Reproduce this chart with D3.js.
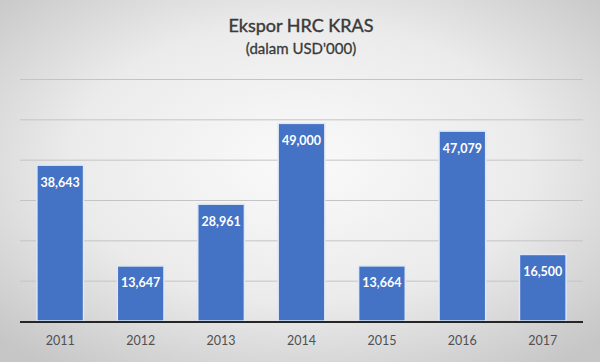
<!DOCTYPE html>
<html>
<head>
<meta charset="utf-8">
<script src="https://cdn.jsdelivr.net/npm/d3@7"></script>
<style>
  body { margin: 0; background: #fff; }
  svg { display: block; }
</style>
</head>
<body>
<div id="container"></div>
<script>
let w = 600;
let h = 362;

// data
let years = ["2011", "2012", "2013", "2014", "2015", "2016", "2017"];
let exports = [38643, 13647, 28961, 49000, 13664, 47079, 16500];
let yTicks = [0, 10000, 20000, 30000, 40000, 50000, 60000];

let plotL = 20, plotR = 583, plotT = 79, plotB = 321;

let x = d3.scaleBand().domain(years).range([plotL, plotR]).paddingInner(0.42).paddingOuter(0.21);
let y = d3.scaleLinear().domain([0, 60000]).range([plotB, plotT]);

let viz = d3.select("#container")
  .append("svg")
  .attr("width", w)
  .attr("height", h);

// soft grey background, lighter in the middle
let defs = viz.append("defs");
let grad = defs.append("radialGradient")
  .attr("id", "bg")
  .attr("cx", "50%").attr("cy", "45%").attr("r", "70%");
grad.append("stop").attr("offset", "0%").attr("stop-color", "#fafafa");
grad.append("stop").attr("offset", "55%").attr("stop-color", "#ebebeb");
grad.append("stop").attr("offset", "100%").attr("stop-color", "#c6c6c6");

viz.append("rect")
  .attr("width", w)
  .attr("height", h)
  .attr("fill", "url(#bg)");

// title
viz.append("text")
  .text("Ekspor HRC KRAS")
  .attr("x", 301)
  .attr("y", 32)
  .attr("text-anchor", "middle")
  .attr("font-family", "Lato")
  .attr("font-size", 18)
  .attr("fill", "#3a3a3a")
  .attr("stroke", "#3a3a3a")
  .attr("stroke-width", 0.4);
viz.append("text")
  .text("(dalam USD'000)")
  .attr("x", 301)
  .attr("y", 54)
  .attr("text-anchor", "middle")
  .attr("font-family", "Lato")
  .attr("font-size", 15)
  .attr("fill", "#3a3a3a")
  .attr("stroke", "#3a3a3a")
  .attr("stroke-width", 0.3);

// gridlines
viz.append("g")
  .attr("class", "grid")
  .attr("transform", "translate(" + plotL + ",0)")
  .call(d3.axisLeft(y).tickValues(yTicks).tickSize(-(plotR - plotL)).tickFormat(""))
  .call(g => g.select(".domain").remove())
  .call(g => g.selectAll("line").attr("stroke", "#c4c4c4").attr("stroke-width", 1));

// bars
viz.selectAll(".bar").data(exports).enter()
  .append("rect")
  .attr("class", "bar")
  .attr("x", (d, i) => x(years[i]))
  .attr("y", d => y(d))
  .attr("width", x.bandwidth())
  .attr("height", d => plotB - y(d))
  .attr("fill", "#4472c4")
  .attr("stroke", "#dfe8f6")
  .attr("stroke-width", 1.5);

// value labels inside the top of each bar
viz.selectAll(".lbl").data(exports).enter()
  .append("text")
  .attr("class", "lbl")
  .text(d => d3.format(",")(d))
  .attr("x", (d, i) => x(years[i]) + x.bandwidth() / 2)
  .attr("y", d => y(d) + 21.5)
  .attr("text-anchor", "middle")
  .attr("font-family", "Lato")
  .attr("font-weight", "bold")
  .attr("font-size", 12.5)
  .attr("fill", "#ffffff");

// category axis
let xAxis = viz.append("g")
  .attr("transform", "translate(0," + plotB + ")")
  .call(d3.axisBottom(x).tickSize(0).tickPadding(15));
xAxis.select(".domain").attr("stroke", "#262626").attr("stroke-width", 2).attr("d", "M" + plotL + ",1H" + plotR);
xAxis.selectAll("text")
  .attr("font-family", "Lato")
  .attr("font-size", 12.5)
  .attr("fill", "#505050");
</script>
</body>
</html>
